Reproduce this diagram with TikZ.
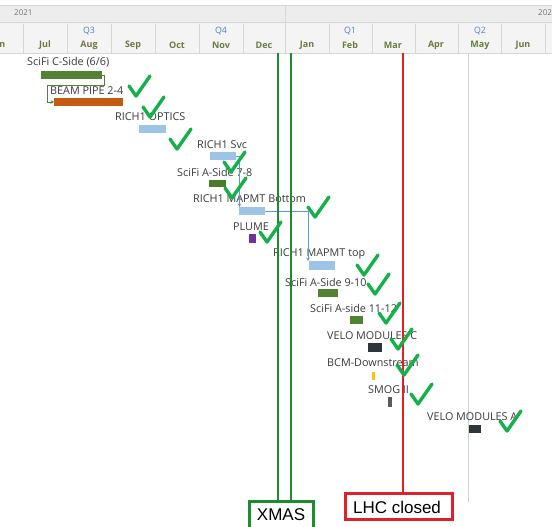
\documentclass[tikz,border=0pt]{standalone}
\usepackage{fontspec}
\setmainfont{Open Sans}
\newfontfamily\arialfont{Liberation Sans}
\usetikzlibrary{arrows.meta,calc}
\definecolor{hdrA}{HTML}{EDEDED}
\definecolor{hdrB}{HTML}{F4F4F4}
\definecolor{sepc}{HTML}{D6D6D6}
\definecolor{qblue}{HTML}{4F81BD}
\definecolor{molive}{HTML}{6B7A3F}
\definecolor{txt}{HTML}{3A3A3A}
\definecolor{scgreen}{HTML}{548235}
\definecolor{dkgreen}{HTML}{4A7A2A}
\definecolor{orng}{HTML}{C55A11}
\definecolor{lblue}{HTML}{9DC3E6}
\definecolor{purp}{HTML}{7030A0}
\definecolor{velo}{HTML}{2F363B}
\definecolor{bcmy}{HTML}{FFC000}
\definecolor{smogc}{HTML}{5A5A5A}
\definecolor{linkblue}{HTML}{5B9BD5}
\definecolor{xgreen}{HTML}{1E8C2E}
\definecolor{lhcred}{HTML}{E0202A}
\definecolor{chkc}{HTML}{16B04A}
\definecolor{thinl}{HTML}{C9D6C9}
\tikzset{
  bar/.style={draw=none,inner sep=0pt,outer sep=0pt,anchor=north west},
  lbl/.style={anchor=west,inner sep=0pt,text=txt,font=\fontsize{10.8}{11}\selectfont},
  mon/.style={inner sep=0pt,text=molive,font=\fontsize{9}{10}\selectfont\bfseries},
  qtr/.style={inner sep=0pt,text=qblue,font=\fontsize{8.8}{9}\selectfont},
  link/.style={draw=linkblue,line width=0.9pt,-{Stealth[length=3.5pt,width=3.5pt]}},
  glink/.style={draw=scgreen,line width=0.9pt,-{Stealth[length=3.5pt,width=3.5pt]}},
  chkline/.style={draw=chkc,line width=3.4pt,line cap=round,line join=round},
  chk/.pic={\draw[chkline] (1,11) -- (8,21) -- (22,1);},
  tag/.style={line width=2.5pt,inner sep=0pt,font=\arialfont\fontsize{17}{18}\selectfont,text=black}
}
\begin{document}
\begin{tikzpicture}[x=1pt,y=-1pt]
\useasboundingbox (0,0) rectangle (552,527);
% header
\fill[white] (0,0) rectangle (552,527);
\fill[hdrA] (0,5) rectangle (552,22);
\fill[hdrB] (0,22) rectangle (552,53);
\draw[sepc,line width=0.6pt] (0,22) -- (552,22);
\draw[sepc,line width=0.6pt] (0,5) -- (552,5);
\draw[sepc,line width=0.6pt] (0,53) -- (552,53);
\draw[sepc,line width=0.6pt] (285,5) -- (285,53);
\foreach \sx in {23,67,111,155,199,243,329,372,415,458,501,545}
  \draw[sepc,line width=0.6pt] (\sx,24) -- (\sx,53);
\begin{scope}
\clip (0,0) rectangle (552,527);
\node[inner sep=0pt,anchor=west,text=gray!90!black,font=\fontsize{8}{9}\selectfont] (y21) at (14,13) {2021};
\node[inner sep=0pt,anchor=west,text=gray!90!black,font=\fontsize{8}{9}\selectfont] (y22) at (538,13) {2022};
\node[qtr] (q3) at (89,31) {Q3};
\node[qtr] (q4) at (221,31) {Q4};
\node[qtr] (q1) at (350,31) {Q1};
\node[qtr] (q2) at (480,31) {Q2};
\node[mon] (m0) at (-2,45) {Jun};
\node[mon] (m1) at (45,45) {Jul};
\node[mon] (m2) at (89,45) {Aug};
\node[mon] (m3) at (133,45) {Sep};
\node[mon] (m4) at (177,45) {Oct};
\node[mon] (m5) at (221,45) {Nov};
\node[mon] (m6) at (264,45) {Dec};
\node[mon] (m7) at (307,45) {Jan};
\node[mon] (m8) at (350,45) {Feb};
\node[mon] (m9) at (393,45) {Mar};
\node[mon] (m10) at (436,45) {Apr};
\node[mon] (m11) at (480,45) {May};
\node[mon] (m12) at (523,45) {Jun};
\end{scope}
% thin line
\draw[thinl,line width=0.8pt] (468,53) -- (468,502);
% bars
\node[bar,fill=scgreen,minimum width=61pt,minimum height=8pt] (csd) at (41,71) {};
\node[bar,fill=orng,minimum width=69pt,minimum height=8pt] (beam) at (54,98) {};
\node[bar,fill=lblue,minimum width=27pt,minimum height=8pt] (optics) at (139,125) {};
\node[bar,fill=lblue,minimum width=26pt,minimum height=8pt] (svc) at (210,152) {};
\node[bar,fill=dkgreen,minimum width=17pt,minimum height=7pt] (a78) at (209,180) {};
\node[bar,fill=lblue,minimum width=26pt,minimum height=8pt] (mbot) at (239,207) {};
\node[bar,fill=purp,minimum width=7pt,minimum height=9pt] (plume) at (249,234) {};
\node[bar,fill=lblue,minimum width=26pt,minimum height=9pt] (mtop) at (309,261) {};
\node[bar,fill=scgreen,minimum width=20pt,minimum height=8pt] (a910) at (318,289) {};
\node[bar,fill=scgreen,minimum width=13pt,minimum height=8pt] (a1112) at (350,316) {};
\node[bar,fill=velo,minimum width=14pt,minimum height=9pt] (veloc) at (368,343) {};
\node[bar,fill=bcmy,minimum width=2.5pt,minimum height=8pt] (bcm) at (372,372) {};
\node[bar,fill=smogc,minimum width=4pt,minimum height=10pt] (smog) at (388,397) {};
\node[bar,fill=velo,minimum width=12pt,minimum height=8pt] (veloa) at (469,425) {};
% labels
\node[lbl] (lcsd) at (27,62) {SciFi C-Side (6/6)};
\node[lbl] (lbeam) at (50,91) {BEAM PIPE 2-4};
\node[lbl] (lopt) at (115,117) {RICH1 OPTICS};
\node[lbl] (lsvc) at (197,145) {RICH1 Svc};
\node[lbl] (la78) at (177,172) {SciFi A-Side 7-8};
\node[lbl] (lmbot) at (193,199) {RICH1 MAPMT Bottom};
\node[lbl] (lplume) at (233,227) {PLUME};
\node[lbl] (lmtop) at (273,254) {RICH1 MAPMT top};
\node[lbl] (la910) at (285,282) {SciFi A-Side 9-10};
\node[lbl] (la1112) at (310,308) {SciFi A-side 11-12};
\node[lbl] (lveloc) at (327,336) {VELO MODULES C};
\node[lbl] (lbcm) at (327,363) {BCM-Downstream};
\node[lbl] (lsmog) at (368,390) {SMOG II};
\node[lbl] (lveloa) at (427,417) {VELO MODULES A};
% connectors
\draw[glink] (csd.east) -- ++(2,0) -- ++(0,10) -| ([xshift=-7pt]beam.west) -- (beam.west);
\draw[link] (svc.east) -| ([xshift=0.5pt]mbot.north west);
\draw[link] (mbot.east) -| ([xshift=-1pt]mtop.north west);
% milestone lines
\node[tag,draw=xgreen,minimum width=64pt,minimum height=30pt,anchor=north west] (xmas) at (248,500) {};
\node[tag] (xmast) at (281,515) {XMAS};
\node[tag,draw=lhcred,minimum width=107pt,minimum height=26pt,anchor=north west] (lhc) at (344,492) {};
\node[tag] (lhct) at (397,507) {LHC closed};
\coordinate (xa) at (278,53);
\coordinate (xb) at (291,53);
\coordinate (ra) at (403,53);
\draw[xgreen,line width=2.6pt] (xa) -- (xa |- xmas.north);
\draw[xgreen,line width=2.6pt] (xb) -- (xb |- xmas.north);
\draw[lhcred,line width=2.6pt] (ra) -- (ra |- lhc.north);
% checks
\pic at (128,75) {chk};
\pic at (142,96) {chk};
\pic at (169,128) {chk};
\pic at (223,151) {chk};
\pic at (224,177) {chk};
\pic at (307,196) {chk};
\pic at (259,221) {chk};
\pic at (356,254) {chk};
\pic at (367,273) {chk};
\pic at (378,302) {chk};
\pic at (390,328) {chk};
\pic at (396,354) {chk};
\pic at (410,383) {chk};
\pic at (499,410) {chk};
\end{tikzpicture}
\end{document}
